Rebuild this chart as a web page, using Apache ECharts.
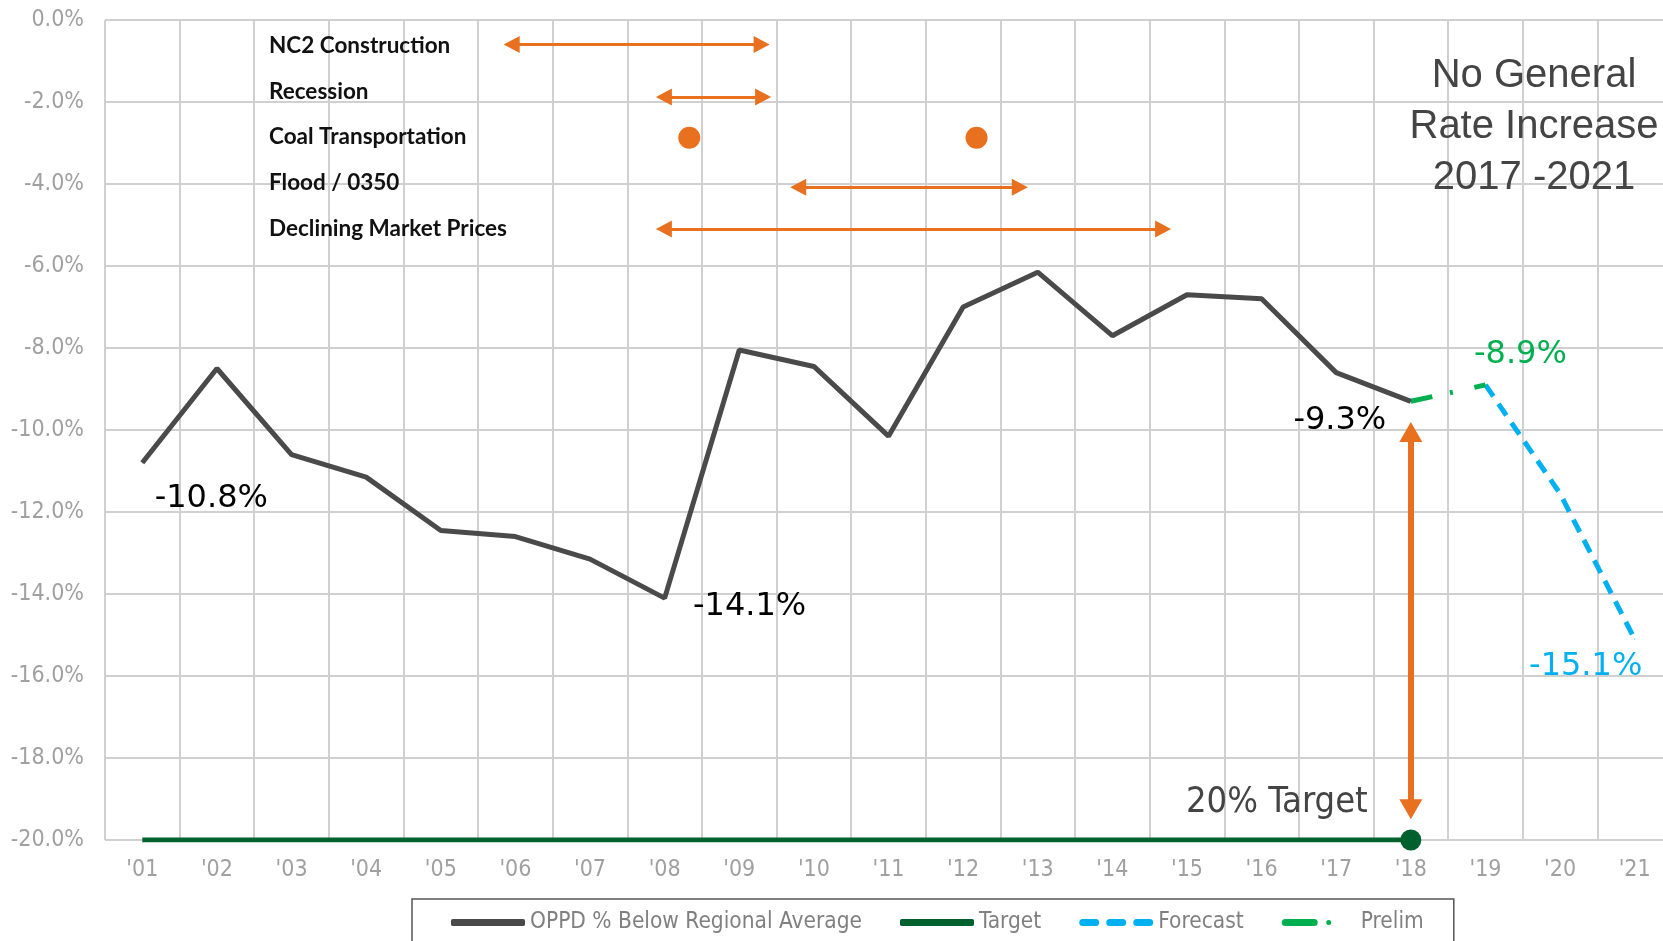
<!DOCTYPE html>
<html>
<head>
<meta charset="utf-8">
<title>OPPD % Below Regional Average</title>
<script src="https://cdn.jsdelivr.net/npm/echarts@6/dist/echarts.min.js"></script>
<style>
  html, body { margin: 0; padding: 0; background: #fff; }
  #chart { width: 1663px; height: 941px; }
</style>
</head>
<body>
<div id="chart"></div>
<script>
// data
const years = ["'01", "'02", "'03", "'04", "'05", "'06", "'07", "'08", "'09", "'10", "'11",
  "'12", "'13", "'14", "'15", "'16", "'17", "'18", "'19", "'20", "'21"]
const oppd = [-10.8, -8.5, -10.6, -11.15, -12.45, -12.6, -13.15, -14.1, -8.05, -8.45, -10.15,
  -7.0, -6.15, -7.7, -6.7, -6.8, -8.6, -9.3, null, null, null]
const target = [-20, -20, -20, -20, -20, -20, -20, -20, -20, -20, -20,
  -20, -20, -20, -20, -20, -20, -20, null, null, null]
const forecast = [null, null, null, null, null, null, null, null, null, null, null,
  null, null, null, null, null, null, null, -8.9, -11.55, -15.1]
const prelim = [null, null, null, null, null, null, null, null, null, null, null,
  null, null, null, null, null, null, -9.3, -8.9, null, null]

// event timeline (from year, to year, level on the % axis)
const events = ['NC2 Construction', 'Recession', 'Coal Transportation', 'Flood / 0350', 'Declining Market Prices']
const eventRanges = [
  [2005.95, 2009.3, -0.6],
  [2007.99, 2009.32, -1.88],
  [2009.79, 2012.76, -4.08],
  [2007.99, 2014.68, -5.1]
]
const coalEvents = [[2008.33, -2.87], [2012.18, -2.87]]
const targetGap = [2018, -10.05, -19.25]

const narrow = "'Liberation Sans Narrow', 'DejaVu Sans Condensed', 'Liberation Sans', sans-serif"
const orange = '#E8701F'
const chart = echarts.init(document.getElementById('chart'), null, { renderer: 'canvas' })

// legend icons
const dashIcon = 'path://M3.5 0H16.5A3.5 3.5 0 0 1 16.5 7H3.5A3.5 3.5 0 0 1 3.5 0Z' +
  'M30.5 0H43.5A3.5 3.5 0 0 1 43.5 7H30.5A3.5 3.5 0 0 1 30.5 0Z' +
  'M57.5 0H70.5A3.5 3.5 0 0 1 70.5 7H57.5A3.5 3.5 0 0 1 57.5 0Z'
const dashDotIcon = 'path://M3.5 0H32.5A3.5 3.5 0 0 1 32.5 7H3.5A3.5 3.5 0 0 1 3.5 0Z' +
  'M44.5 3.5A2.5 2.5 0 1 1 49.5 3.5A2.5 2.5 0 1 1 44.5 3.5Z' +
  'M74 3.5L74 3.5'

const labelAt = (arr, marks) => arr.map((v, i) => {
  const m = marks[i]
  if (!m) return v
  return {
    value: v,
    symbol: 'circle',
    symbolSize: 1,
    label: {
      show: true,
      position: 'inside',
      offset: m.offset,
      formatter: v.toFixed(1) + '%',
      fontFamily: "'DejaVu Sans', sans-serif",
      fontSize: 32,
      color: m.color
    }
  }
})

const noteText = (text, x, y, font, fill, align) => ({
  type: 'text',
  x: x,
  y: y,
  z: 100,
  silent: true,
  style: { text: text, font: font, fill: fill, align: align || 'left', verticalAlign: 'middle' }
})

const option = {
  animation: false,
  backgroundColor: '#fff',
  grid: { left: 105, top: 20, width: 1567, height: 820, outerBoundsMode: 'none' },
  xAxis: [
    {
      type: 'category',
      data: years,
      boundaryGap: true,
      axisLine: { show: false },
      axisTick: { show: false },
      axisLabel: { margin: 19, fontFamily: narrow, fontSize: 23, color: '#a0a0a0' },
      splitLine: { show: true, lineStyle: { color: '#d0d0d0', width: 2 } }
    },
    { type: 'value', min: 2000.5, max: 2021.5, show: false }
  ],
  yAxis: {
    type: 'value',
    min: -20,
    max: 0,
    interval: 2,
    axisLine: { show: false },
    axisTick: { show: false },
    axisLabel: {
      margin: 21,
      fontFamily: narrow,
      fontSize: 23,
      color: '#a0a0a0',
      formatter: v => v.toFixed(1) + '%'
    },
    splitLine: { lineStyle: { color: '#d0d0d0', width: 2 } }
  },
  legend: {
    data: [
      { name: 'OPPD % Below Regional Average', icon: 'roundRect' },
      { name: 'Target', icon: 'roundRect' },
      { name: 'Forecast', icon: dashIcon },
      { name: 'Prelim', icon: dashDotIcon }
    ],
    left: 412,
    top: 899,
    padding: [12, 30, 30, 39],
    itemGap: 38,
    itemWidth: 74,
    itemHeight: 7,
    borderColor: '#555',
    borderWidth: 1.5,
    textStyle: { fontFamily: narrow, fontSize: 22.5, color: '#808080' }
  },
  graphic: events.map((t, i) => noteText(t, 269, [46, 92, 137, 183, 229][i],
    "bold 22.5px Lato, 'Open Sans', sans-serif", '#111'))
    .concat([
      noteText('No General', 1534, 76, "40px 'Liberation Sans', Arial, sans-serif", '#444', 'center'),
      noteText('Rate Increase', 1534, 127, "40px 'Liberation Sans', Arial, sans-serif", '#444', 'center'),
      noteText('2017 -2021', 1534, 178, "40px 'Liberation Sans', Arial, sans-serif", '#444', 'center'),
      noteText('20% Target', 1186, 803, "36px 'DejaVu Sans Condensed', 'Liberation Sans', sans-serif", '#444')
    ]),
  series: [
    {
      name: 'OPPD % Below Regional Average',
      type: 'line',
      data: labelAt(oppd, {
        0: { offset: [69, 36], color: '#000' },
        7: { offset: [85, 9], color: '#000' },
        17: { offset: [-71, 19], color: '#000' }
      }),
      symbol: 'none',
      lineStyle: { color: '#4a4a4a', width: 5 },
      itemStyle: { color: '#4a4a4a' },
      z: 5
    },
    {
      name: 'Target',
      type: 'line',
      data: target.map((v, i) => (i === 17 ? { value: v, symbol: 'circle', symbolSize: 21 } : v)),
      symbol: 'none',
      lineStyle: { color: '#00612E', width: 5 },
      itemStyle: { color: '#00612E' },
      z: 4
    },
    {
      name: 'Forecast',
      type: 'line',
      data: labelAt(forecast, {
        20: { offset: [-49, 28], color: '#00B0F0' }
      }),
      symbol: 'none',
      lineStyle: { color: '#00B0F0', width: 5, type: [14, 9] },
      itemStyle: { color: '#00B0F0' },
      z: 4
    },
    {
      name: 'Prelim',
      type: 'line',
      data: labelAt(prelim, {
        18: { offset: [35, -30], color: '#00B050' }
      }),
      symbol: 'none',
      lineStyle: { color: '#00B050', width: 5, type: [22, 18, 3, 22] },
      itemStyle: { color: '#00B050' },
      z: 4
    },
    {
      // coal transportation dots
      type: 'scatter',
      xAxisIndex: 1,
      data: coalEvents,
      symbolSize: 22,
      itemStyle: { color: orange, opacity: 1 },
      silent: true
    },
    {
      // event arrows and the target gap arrow
      type: 'line',
      xAxisIndex: 1,
      data: [],
      silent: true,
      markLine: {
        silent: true,
        symbol: ['triangle', 'triangle'],
        label: { show: false },
        emphasis: { disabled: true },
        data: eventRanges.map(r => [
          { coord: [r[0], r[2]], symbolSize: [17, 16], lineStyle: { color: orange, width: 3, type: 'solid' } },
          { coord: [r[1], r[2]], symbolSize: [17, 16] }
        ]).concat([[
          { coord: [targetGap[0], targetGap[1]], symbolSize: [23, 20], lineStyle: { color: orange, width: 6, type: 'solid' } },
          { coord: [targetGap[0], targetGap[2]], symbolSize: [23, 20] }
        ]])
      }
    }
  ]
}

chart.setOption(option)
</script>
</body>
</html>
